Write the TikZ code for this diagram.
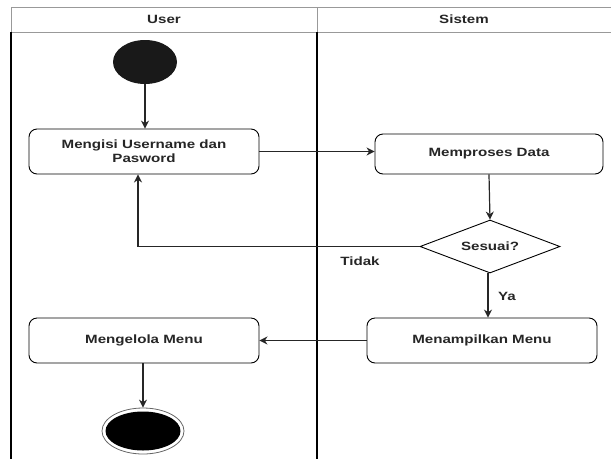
\documentclass[tikz,border=0pt]{standalone}
\usepackage{fontspec}
\setmainfont{Liberation Sans}[FakeStretch=1.26]
\usetikzlibrary{shapes.geometric,arrows.meta}
\definecolor{txt}{HTML}{262626}
\definecolor{hdr}{HTML}{999999}
\tikzset{
  actbox/.style={draw=black, line width=0.9pt, rounded corners=8pt, fill=white,
    minimum width=230pt, minimum height=45pt, inner sep=2pt, align=center,
    font=\fontsize{12}{14}\selectfont\bfseries, text=txt},
  flow/.style={line width=1.2pt, draw=black!85, -{Stealth[length=8pt,width=8pt]}},
  lbl/.style={font=\fontsize{12}{14}\selectfont\bfseries, text=txt, inner sep=0pt},
  lane/.style={line width=1.4pt, draw=black},
  hline/.style={line width=1pt, draw=hdr}
}
\begin{document}
\begin{tikzpicture}[x=1pt,y=-1pt]
\useasboundingbox (0,0) rectangle (611,459);
% swimlane header
\draw[hline] (11,7) -- (611,7);
\draw[hline] (11,32) -- (611,32);
\draw[hline] (11,7) -- (11,32);
\draw[hline] (317,7) -- (317,32);
\node[lbl] (huser) at (164,19.5) {User};
\node[lbl] (hsis) at (464,19.5) {Sistem};
% lanes
\draw[lane] (11,32) -- (11,459);
\draw[lane] (317,32) -- (317,459);
% nodes
\node[ellipse, fill=black!90, minimum width=64pt, minimum height=44pt, inner sep=0pt] (start) at (145,62) {};
\node[actbox] (b1) at (144,151.5) {Mengisi Username dan\\Pasword};
\node[actbox, minimum width=228pt, minimum height=40pt] (b2) at (489,154) {Memproses Data};
\node[diamond, shape aspect=2.64, draw=black, line width=0.9pt, fill=white, minimum width=140pt, minimum height=53pt, inner sep=0pt,
  font=\fontsize{12}{14}\selectfont\bfseries, text=txt] (dec) at (490,246.5) {Sesuai?};
\node[actbox] (b3) at (482,340.5) {Menampilkan Menu};
\node[actbox] (b4) at (144,340.5) {Mengelola Menu};
\node[ellipse, draw=black!60, line width=0.8pt, fill=white, minimum width=82pt, minimum height=46pt, inner sep=0pt] (endo) at (143,431) {};
\node[ellipse, fill=black, minimum width=75pt, minimum height=39pt, inner sep=0pt] (endi) at (143,431) {};
% connectors
\draw[flow] (start.south) -- (start.south |- b1.north);
\draw[flow] (b1.east) -- (b2.west |- b1.east);
\draw[flow] (b2.south) -- (dec.north);
\draw[flow] (dec.west) -| ([xshift=-6pt]b1.south);
\draw[flow] ([xshift=-2pt]dec.south) -- ([xshift=-2pt]dec.south |- b3.north);
\draw[flow] (b3.west) -- (b4.east);
\draw[flow] (b4.south -| endo.north) -- (endo.north);
% labels
\node[lbl] (tidak) at (360,261) {Tidak};
\node[lbl] (ya) at (507,296) {Ya};
\end{tikzpicture}
\end{document}
